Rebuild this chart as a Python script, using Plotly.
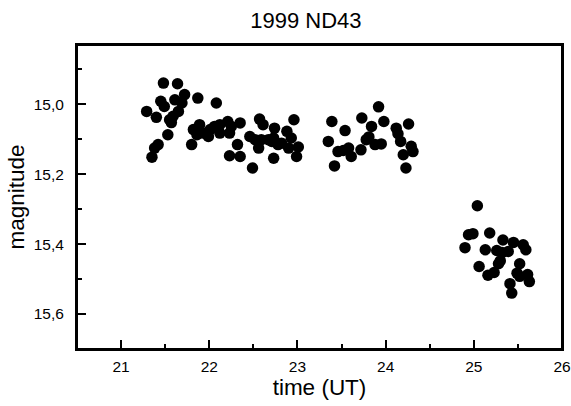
import plotly.graph_objects as go

time_ut = [
    21.29, 21.35, 21.38, 21.42, 21.40, 21.48, 21.45, 21.49, 21.53, 21.55,
    21.57, 21.59, 21.61, 21.64, 21.65, 21.69, 21.72, 21.80, 21.87, 22.08,
    21.82, 21.89, 21.86, 21.93, 22.01, 21.99, 22.06, 22.12, 22.12, 22.21,
    22.25, 22.35, 22.23, 22.32, 22.23, 22.35, 22.49, 22.46, 22.52, 22.57,
    22.61, 22.56, 22.59, 22.67, 22.74, 22.78, 22.73, 22.88, 22.96, 22.93,
    22.90, 23.01, 22.99, 22.82, 22.73, 22.71,
    23.39, 23.35, 23.42, 23.46, 23.52, 23.54, 23.58, 23.61, 23.72, 23.73,
    23.78, 23.81, 23.84, 23.88, 23.92, 23.95, 23.98, 24.12, 24.14, 24.17,
    24.20, 24.23, 24.26, 24.29, 24.31,
    25.04, 24.94, 24.99, 25.18, 24.90, 25.13, 25.33, 25.45, 25.56, 25.59,
    25.26, 25.32, 25.39, 25.30, 25.28, 25.52, 25.06, 25.16, 25.23, 25.49,
    25.52, 25.61, 25.63, 25.41, 25.43,
]
magnitude = [
    15.020, 15.151, 15.125, 15.115, 15.037, 14.939, 14.991, 15.006, 15.087, 15.044,
    15.052, 15.034, 14.987, 14.941, 15.020, 14.996, 14.972, 15.115, 14.982, 14.996,
    15.072, 15.058, 15.087, 15.082, 15.072, 15.092, 15.063, 15.058, 15.082, 15.049,
    15.063, 15.053, 15.082, 15.115, 15.147, 15.149, 15.182, 15.092, 15.101, 15.042,
    15.058, 15.125, 15.101, 15.101, 15.068, 15.115, 15.154, 15.077, 15.044, 15.096,
    15.125, 15.122, 15.149, 15.111, 15.096, 15.106,
    15.049, 15.106, 15.176, 15.135, 15.132, 15.075, 15.125, 15.149, 15.130, 15.039,
    15.101, 15.093, 15.063, 15.115, 15.007, 15.113, 15.049, 15.068, 15.084, 15.106,
    15.144, 15.182, 15.056, 15.120, 15.135,
    15.290, 15.373, 15.370, 15.368, 15.410, 15.416, 15.388, 15.395, 15.402, 15.416,
    15.418, 15.424, 15.421, 15.448, 15.456, 15.456, 15.464, 15.489, 15.481, 15.483,
    15.492, 15.487, 15.507, 15.513, 15.540,
]

x_ticks = [21, 22, 23, 24, 25, 26]
y_ticks = [15.0, 15.2, 15.4, 15.6]

FONT = "Liberation Sans, Arial, sans-serif"

fig = go.Figure(
    go.Scatter(
        x=time_ut, y=magnitude, mode="markers",
        marker=dict(size=11.5, color="black", line=dict(width=0)),
        hoverinfo="x+y",
    )
)

axis_common = dict(
    showline=True, linecolor="black", linewidth=2, mirror=True,
    showgrid=False, zeroline=False, automargin=False,
    ticks="inside", ticklen=9, tickwidth=1.5, tickcolor="black",
    tickfont=dict(family=FONT, size=15.5, color="black"),
)

fig.update_xaxes(
    **axis_common,
    range=[20.5, 26], tickvals=x_ticks,
    minor=dict(dtick=0.5, tick0=20.5, ticks="inside", ticklen=5, tickwidth=1.5, tickcolor="black"),
    title=dict(text="time (UT)", font=dict(family=FONT, size=22.5, color="black"), standoff=0),
    ticklabelstandoff=2,
)
fig.update_yaxes(
    **axis_common,
    range=[15.70, 14.83], tickvals=y_ticks, tickformat=".1f",
    minor=dict(dtick=0.1, tick0=14.9, ticks="inside", ticklen=5, tickwidth=1.5, tickcolor="black"),
    title=dict(text="magnitude", font=dict(family=FONT, size=22.5, color="black"), standoff=3),
    ticklabelstandoff=8,
)

fig.update_layout(
    width=571, height=406,
    margin=dict(l=77, r=9, t=45, b=57, autoexpand=False),
    paper_bgcolor="white", plot_bgcolor="white",
    separators=",.",
    showlegend=False,
    title=dict(
        text="1999 ND43", font=dict(family=FONT, size=22, color="black"),
        x=0.472, xref="paper", xanchor="center",
        y=1 - 20 / 406, yref="container", yanchor="middle",
    ),
    shapes=[dict(
        type="rect", xref="paper", yref="paper", x0=0, x1=1, y0=0, y1=1,
        line=dict(color="black", width=2), fillcolor="rgba(0,0,0,0)", layer="above",
    )],
)

fig.write_html(
    "out.html",
    config={"displayModeBar": False},
    post_script="document.body.style.margin='0px';",
)
